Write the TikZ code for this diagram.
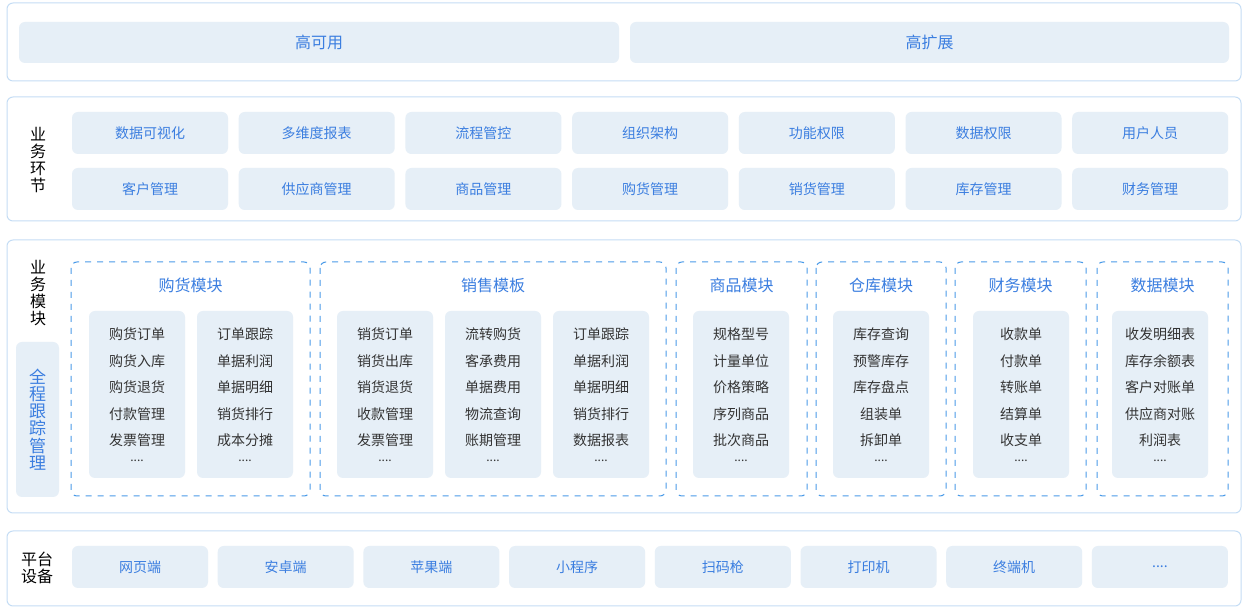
\documentclass[tikz,border=0pt]{standalone}
\usepackage{fontspec}
\setmainfont{Noto Sans CJK SC}
\newcommand\mydots{....}
\begin{document}
\begin{tikzpicture}[x=0.5pt,y=-0.5pt,
 panel/.style={draw=panelc,line width=0.5pt,fill=white,rounded corners=3pt},
 bbox/.style={fill=boxc,rounded corners=3pt,text=bluet,font=\fontsize{7}{8}\selectfont},
 mod/.style={draw=dashc,dashed,line width=0.5pt,rounded corners=3pt},
 lbl/.style={font=\fontsize{8}{8.6}\selectfont,align=center}]
\definecolor{panelc}{HTML}{C5DDF5}
\definecolor{boxc}{HTML}{E6EFF7}
\definecolor{bluet}{HTML}{3B7EE0}
\definecolor{grayt}{HTML}{333333}
\definecolor{dashc}{HTML}{4A9BE8}
\useasboundingbox (0,0) rectangle (1248,613);
\fill[white] (0,0) rectangle (1248,613);
% panel 1
\draw[panel] (7,3) rectangle (1241,81);
\path[bbox] (19,22) rectangle (619,63) node[midway,font=\fontsize{8}{8}\selectfont] (ha) {高可用};
\path[bbox] (630,22) rectangle (1229,63) node[midway,font=\fontsize{8}{8}\selectfont] (hk) {高扩展};
% panel 2
\draw[panel] (7,97) rectangle (1241,221);
\node[lbl] (l2) at (38,160) {业\\务\\环\\节};
\foreach \t [count=\i from 0] in {数据可视化,多维度报表,流程管控,组织架构,功能权限,数据权限,用户人员}{
 \path[bbox] (72+166.7*\i,112) rectangle ++(156,42) node[midway] (r1\i) {\t};}
\foreach \t [count=\i from 0] in {客户管理,供应商管理,商品管理,购货管理,销货管理,库存管理,财务管理}{
 \path[bbox] (72+166.7*\i,168) rectangle ++(156,42) node[midway] (r2\i) {\t};}
% panel 3
\draw[panel] (7,240) rectangle (1241,513);
\node[lbl] (l3) at (38,293) {业\\务\\模\\块};
\path[fill=boxc,rounded corners=3pt] (16,342) rectangle (59,497) node[midway,lbl,text=bluet,font=\fontsize{8.5}{8.6}\selectfont] (qc) {全\\程\\跟\\踪\\管\\理};
\foreach \a/\b/\t/\n in {71/310/购货模块/m1,320/666/销售模板/m2,676/807/商品模块/m3,816/946/仓库模块/m4,955/1086/财务模块/m5,1097/1228/数据模块/m6}{
 \draw[mod] (\a,262) rectangle (\b,496);
 \node[text=bluet,font=\fontsize{8}{9}\selectfont] (\n) at ({(\a+\b)/2},285) {\t};}
\foreach \x/\t/\n in {
 89/{购货订单\\购货入库\\购货退货\\付款管理\\发票管理}/a1,
 197/{订单跟踪\\单据利润\\单据明细\\销货排行\\成本分摊}/a2,
 337/{销货订单\\销货出库\\销货退货\\收款管理\\发票管理}/a3,
 445/{流转购货\\客承费用\\单据费用\\物流查询\\账期管理}/a4,
 553/{订单跟踪\\单据利润\\单据明细\\销货排行\\数据报表}/a5,
 693/{规格型号\\计量单位\\价格策略\\序列商品\\批次商品}/a6,
 833/{库存查询\\预警库存\\库存盘点\\组装单\\拆卸单}/a7,
 973/{收款单\\付款单\\转账单\\结算单\\收支单}/a8,
 1112/{收发明细表\\库存余额表\\客户对账单\\供应商对账\\利润表}/a9}{
 \path[fill=boxc,rounded corners=3pt] (\x,311) rectangle ++(96,167);
 \node[text=grayt,font=\fontsize{7}{13.2}\selectfont,align=center,anchor=north] (\n) at (\x+48,321) {\t};
 \node[text=grayt,font=\fontsize{6}{7}\selectfont] (\n d) at (\x+48,461) {\mydots};}
% panel 4
\draw[panel] (7,531) rectangle (1241,606);
\node[lbl] (l4) at (37,568) {平台\\设备};
\foreach \t [count=\i from 0] in {网页端,安卓端,苹果端,小程序,扫码枪,打印机,终端机,\mydots}{
 \path[bbox] (72+145.7*\i,546) rectangle ++(136,42) node[midway] (p\i) {\t};}
\end{tikzpicture}
\end{document}
